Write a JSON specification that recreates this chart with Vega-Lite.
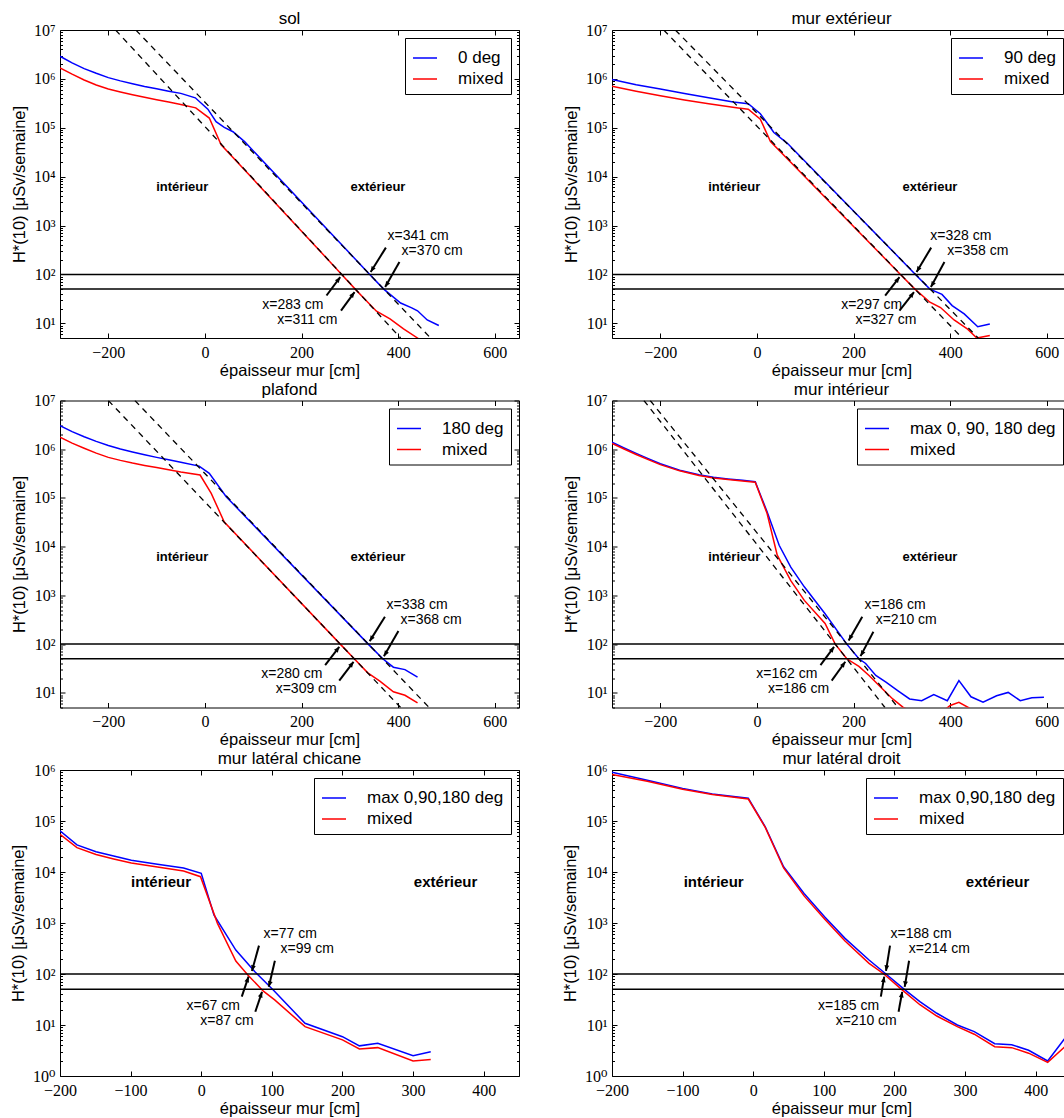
{
"$schema": "https://vega.github.io/schema/vega-lite/v6.json",
"background": "white",
"padding": {"left": 10, "top": 9, "right": 0, "bottom": 0},
"spacing": 0.5,
"config": {
 "view": {"stroke": "black", "strokeWidth": 1},
 "title": {"font": "Liberation Sans", "fontSize": 17, "fontWeight": "normal", "color": "black", "offset": -6, "anchor": "middle"},
 "axis": {"grid": false, "domain": false, "labelFont": "Liberation Serif, DejaVu Serif, serif", "labelFontSize": 16, "labelColor": "black", "tickColor": "black", "tickWidth": 1, "titleFont": "Liberation Sans", "titleFontSize": 16.5, "titleFontWeight": "normal", "titleColor": "black", "labelOverlap": false, "labelFlush": false},
 "axisBottom": {"tickSize": -5, "labelPadding": 11, "titlePadding": 2, "labelFont": "Liberation Serif, DejaVu Serif, serif"},
 "axisTop": {"tickSize": -5},
 "axisLeft": {"labelPadding": 10, "titlePadding": 6, "labelFont": "Liberation Serif, DejaVu Serif, serif"},
 "legend": {"orient": "top-right", "offset": 8, "padding": 7, "strokeColor": "black", "fillColor": "white", "symbolType": "stroke", "symbolSize": 576, "symbolStrokeWidth": 1.5, "labelFont": "Liberation Sans", "labelFontSize": 17, "labelOffset": 20, "rowPadding": 0, "labelColor": "black", "labelLimit": 300, "cornerRadius": 0}
},
"resolve": {"scale": {"x": "independent", "y": "independent", "color": "independent"}, "legend": {"color": "independent"}},
"datasets": {
 "hlines": [{"y": 100}, {"y": 50}],
 "curves": [
  {"p":1,"s":"0 deg","x":-300,"y":2900000},{"p":1,"s":"0 deg","x":-275,"y":2120000},{"p":1,"s":"0 deg","x":-250,"y":1620000},{"p":1,"s":"0 deg","x":-225,"y":1300000},{"p":1,"s":"0 deg","x":-200,"y":1060000},{"p":1,"s":"0 deg","x":-175,"y":910000},{"p":1,"s":"0 deg","x":-150,"y":795000},{"p":1,"s":"0 deg","x":-125,"y":700000},{"p":1,"s":"0 deg","x":-100,"y":625000},{"p":1,"s":"0 deg","x":-75,"y":560000},{"p":1,"s":"0 deg","x":-50,"y":505000},{"p":1,"s":"0 deg","x":-20,"y":410000},{"p":1,"s":"0 deg","x":6,"y":240000},{"p":1,"s":"0 deg","x":23,"y":133000},{"p":1,"s":"0 deg","x":40,"y":102000},{"p":1,"s":"0 deg","x":58,"y":83000},{"p":1,"s":"0 deg","x":82,"y":52000},{"p":1,"s":"0 deg","x":341,"y":100},{"p":1,"s":"0 deg","x":370,"y":50},{"p":1,"s":"0 deg","x":405,"y":26},{"p":1,"s":"0 deg","x":428,"y":20.7},{"p":1,"s":"0 deg","x":440,"y":18},{"p":1,"s":"0 deg","x":460,"y":11.7},{"p":1,"s":"0 deg","x":484,"y":9},
  {"p":1,"s":"mixed","x":-300,"y":1680000},{"p":1,"s":"mixed","x":-275,"y":1250000},{"p":1,"s":"mixed","x":-250,"y":950000},{"p":1,"s":"mixed","x":-225,"y":750000},{"p":1,"s":"mixed","x":-200,"y":620000},{"p":1,"s":"mixed","x":-175,"y":540000},{"p":1,"s":"mixed","x":-150,"y":475000},{"p":1,"s":"mixed","x":-125,"y":420000},{"p":1,"s":"mixed","x":-100,"y":376000},{"p":1,"s":"mixed","x":-75,"y":335000},{"p":1,"s":"mixed","x":-50,"y":300000},{"p":1,"s":"mixed","x":-19,"y":255000},{"p":1,"s":"mixed","x":9,"y":158000},{"p":1,"s":"mixed","x":33.5,"y":45000},{"p":1,"s":"mixed","x":283,"y":100},{"p":1,"s":"mixed","x":311,"y":50},{"p":1,"s":"mixed","x":334,"y":29},{"p":1,"s":"mixed","x":355,"y":17.7},{"p":1,"s":"mixed","x":383,"y":12.3},{"p":1,"s":"mixed","x":411,"y":7.7},{"p":1,"s":"mixed","x":440,"y":5},{"p":1,"s":"mixed","x":455,"y":3.8},
  {"p":2,"s":"90 deg","x":-300,"y":970000},{"p":2,"s":"90 deg","x":-250,"y":760000},{"p":2,"s":"90 deg","x":-200,"y":620000},{"p":2,"s":"90 deg","x":-150,"y":500000},{"p":2,"s":"90 deg","x":-100,"y":410000},{"p":2,"s":"90 deg","x":-49,"y":335000},{"p":2,"s":"90 deg","x":-18,"y":310000},{"p":2,"s":"90 deg","x":7,"y":194000},{"p":2,"s":"90 deg","x":21,"y":125000},{"p":2,"s":"90 deg","x":35,"y":80000},{"p":2,"s":"90 deg","x":63,"y":48000},{"p":2,"s":"90 deg","x":328,"y":100},{"p":2,"s":"90 deg","x":358,"y":50},{"p":2,"s":"90 deg","x":383,"y":39},{"p":2,"s":"90 deg","x":404,"y":23},{"p":2,"s":"90 deg","x":429,"y":15.6},{"p":2,"s":"90 deg","x":457,"y":8.5},{"p":2,"s":"90 deg","x":482,"y":9.7},
  {"p":2,"s":"mixed","x":-300,"y":710000},{"p":2,"s":"mixed","x":-250,"y":560000},{"p":2,"s":"mixed","x":-200,"y":450000},{"p":2,"s":"mixed","x":-150,"y":370000},{"p":2,"s":"mixed","x":-100,"y":310000},{"p":2,"s":"mixed","x":-39,"y":255000},{"p":2,"s":"mixed","x":-18,"y":240000},{"p":2,"s":"mixed","x":7,"y":150000},{"p":2,"s":"mixed","x":28,"y":52000},{"p":2,"s":"mixed","x":297,"y":100},{"p":2,"s":"mixed","x":327,"y":50},{"p":2,"s":"mixed","x":358,"y":27},{"p":2,"s":"mixed","x":380,"y":21},{"p":2,"s":"mixed","x":408,"y":11.7},{"p":2,"s":"mixed","x":436,"y":7.6},{"p":2,"s":"mixed","x":455,"y":5},{"p":2,"s":"mixed","x":482,"y":5.6},
  {"p":3,"s":"180 deg","x":-300,"y":3060000},{"p":3,"s":"180 deg","x":-275,"y":2300000},{"p":3,"s":"180 deg","x":-250,"y":1800000},{"p":3,"s":"180 deg","x":-225,"y":1450000},{"p":3,"s":"180 deg","x":-200,"y":1190000},{"p":3,"s":"180 deg","x":-175,"y":1010000},{"p":3,"s":"180 deg","x":-150,"y":880000},{"p":3,"s":"180 deg","x":-125,"y":770000},{"p":3,"s":"180 deg","x":-100,"y":680000},{"p":3,"s":"180 deg","x":-75,"y":605000},{"p":3,"s":"180 deg","x":-50,"y":540000},{"p":3,"s":"180 deg","x":-12,"y":450000},{"p":3,"s":"180 deg","x":9,"y":320000},{"p":3,"s":"180 deg","x":44,"y":106000},{"p":3,"s":"180 deg","x":338,"y":100},{"p":3,"s":"180 deg","x":368,"y":50},{"p":3,"s":"180 deg","x":390,"y":33.6},{"p":3,"s":"180 deg","x":414,"y":30},{"p":3,"s":"180 deg","x":440,"y":21},
  {"p":3,"s":"mixed","x":-300,"y":1760000},{"p":3,"s":"mixed","x":-275,"y":1330000},{"p":3,"s":"mixed","x":-250,"y":1050000},{"p":3,"s":"mixed","x":-225,"y":830000},{"p":3,"s":"mixed","x":-200,"y":680000},{"p":3,"s":"mixed","x":-175,"y":590000},{"p":3,"s":"mixed","x":-150,"y":520000},{"p":3,"s":"mixed","x":-125,"y":465000},{"p":3,"s":"mixed","x":-100,"y":420000},{"p":3,"s":"mixed","x":-75,"y":378000},{"p":3,"s":"mixed","x":-50,"y":340000},{"p":3,"s":"mixed","x":-10,"y":295000},{"p":3,"s":"mixed","x":13,"y":124000},{"p":3,"s":"mixed","x":40,"y":32000},{"p":3,"s":"mixed","x":280,"y":100},{"p":3,"s":"mixed","x":309,"y":50},{"p":3,"s":"mixed","x":337,"y":25.7},{"p":3,"s":"mixed","x":362,"y":17.4},{"p":3,"s":"mixed","x":390,"y":10.5},{"p":3,"s":"mixed","x":414,"y":8.9},{"p":3,"s":"mixed","x":440,"y":6.2},
  {"p":4,"s":"max 0, 90, 180 deg","x":-300,"y":1390000},{"p":4,"s":"max 0, 90, 180 deg","x":-275,"y":1060000},{"p":4,"s":"max 0, 90, 180 deg","x":-250,"y":820000},{"p":4,"s":"max 0, 90, 180 deg","x":-225,"y":640000},{"p":4,"s":"max 0, 90, 180 deg","x":-200,"y":505000},{"p":4,"s":"max 0, 90, 180 deg","x":-160,"y":370000},{"p":4,"s":"max 0, 90, 180 deg","x":-120,"y":298000},{"p":4,"s":"max 0, 90, 180 deg","x":-90,"y":265000},{"p":4,"s":"max 0, 90, 180 deg","x":-60,"y":245000},{"p":4,"s":"max 0, 90, 180 deg","x":-30,"y":230000},{"p":4,"s":"max 0, 90, 180 deg","x":-3.5,"y":215000},{"p":4,"s":"max 0, 90, 180 deg","x":21,"y":52000},{"p":4,"s":"max 0, 90, 180 deg","x":46,"y":10700},{"p":4,"s":"max 0, 90, 180 deg","x":70,"y":3800},{"p":4,"s":"max 0, 90, 180 deg","x":98,"y":1500},{"p":4,"s":"max 0, 90, 180 deg","x":141,"y":420},{"p":4,"s":"max 0, 90, 180 deg","x":186,"y":100},{"p":4,"s":"max 0, 90, 180 deg","x":211,"y":50},{"p":4,"s":"max 0, 90, 180 deg","x":225,"y":40},{"p":4,"s":"max 0, 90, 180 deg","x":246,"y":22.7},{"p":4,"s":"max 0, 90, 180 deg","x":267,"y":16.5},{"p":4,"s":"max 0, 90, 180 deg","x":292,"y":11},{"p":4,"s":"max 0, 90, 180 deg","x":316,"y":7.5},{"p":4,"s":"max 0, 90, 180 deg","x":341,"y":6.9},{"p":4,"s":"max 0, 90, 180 deg","x":366,"y":9.2},{"p":4,"s":"max 0, 90, 180 deg","x":394,"y":6.9},{"p":4,"s":"max 0, 90, 180 deg","x":418,"y":17.8},{"p":4,"s":"max 0, 90, 180 deg","x":443,"y":8.3},{"p":4,"s":"max 0, 90, 180 deg","x":468,"y":6.4},{"p":4,"s":"max 0, 90, 180 deg","x":496,"y":8.7},{"p":4,"s":"max 0, 90, 180 deg","x":520,"y":10.2},{"p":4,"s":"max 0, 90, 180 deg","x":545,"y":6.9},{"p":4,"s":"max 0, 90, 180 deg","x":569,"y":7.9},{"p":4,"s":"max 0, 90, 180 deg","x":594,"y":8.1},
  {"p":4,"s":"mixed","x":-300,"y":1320000},{"p":4,"s":"mixed","x":-275,"y":1010000},{"p":4,"s":"mixed","x":-250,"y":780000},{"p":4,"s":"mixed","x":-225,"y":610000},{"p":4,"s":"mixed","x":-200,"y":482000},{"p":4,"s":"mixed","x":-160,"y":360000},{"p":4,"s":"mixed","x":-120,"y":288000},{"p":4,"s":"mixed","x":-90,"y":258000},{"p":4,"s":"mixed","x":-60,"y":238000},{"p":4,"s":"mixed","x":-30,"y":223000},{"p":4,"s":"mixed","x":-3.5,"y":210000},{"p":4,"s":"mixed","x":21,"y":48000},{"p":4,"s":"mixed","x":42,"y":6700},{"p":4,"s":"mixed","x":70,"y":2000},{"p":4,"s":"mixed","x":98,"y":790},{"p":4,"s":"mixed","x":141,"y":265},{"p":4,"s":"mixed","x":162,"y":100},{"p":4,"s":"mixed","x":186,"y":50},{"p":4,"s":"mixed","x":211,"y":35},{"p":4,"s":"mixed","x":232,"y":22.7},{"p":4,"s":"mixed","x":260,"y":12},{"p":4,"s":"mixed","x":281,"y":7.5},{"p":4,"s":"mixed","x":302,"y":5.1},{"p":4,"s":"mixed","x":330,"y":3.6},{"p":4,"s":"mixed","x":370,"y":3.2},{"p":4,"s":"mixed","x":400,"y":5.5},{"p":4,"s":"mixed","x":418,"y":6.4},{"p":4,"s":"mixed","x":439,"y":4.9},{"p":4,"s":"mixed","x":460,"y":3.2},
  {"p":5,"s":"max 0,90,180 deg","x":-200,"y":64000},{"p":5,"s":"max 0,90,180 deg","x":-176,"y":34000},{"p":5,"s":"max 0,90,180 deg","x":-149,"y":25000},{"p":5,"s":"max 0,90,180 deg","x":-124,"y":20500},{"p":5,"s":"max 0,90,180 deg","x":-99,"y":17000},{"p":5,"s":"max 0,90,180 deg","x":-62,"y":14200},{"p":5,"s":"max 0,90,180 deg","x":-25,"y":12000},{"p":5,"s":"max 0,90,180 deg","x":0,"y":9400},{"p":5,"s":"max 0,90,180 deg","x":18,"y":1440},{"p":5,"s":"max 0,90,180 deg","x":49,"y":295},{"p":5,"s":"max 0,90,180 deg","x":76,"y":111},{"p":5,"s":"max 0,90,180 deg","x":102,"y":48.5},{"p":5,"s":"max 0,90,180 deg","x":147,"y":10.8},{"p":5,"s":"max 0,90,180 deg","x":200,"y":5.9},{"p":5,"s":"max 0,90,180 deg","x":224,"y":3.9},{"p":5,"s":"max 0,90,180 deg","x":250,"y":4.4},{"p":5,"s":"max 0,90,180 deg","x":300,"y":2.5},{"p":5,"s":"max 0,90,180 deg","x":325,"y":3.0},
  {"p":5,"s":"mixed","x":-200,"y":55000},{"p":5,"s":"mixed","x":-176,"y":30000},{"p":5,"s":"mixed","x":-149,"y":22000},{"p":5,"s":"mixed","x":-124,"y":18000},{"p":5,"s":"mixed","x":-99,"y":15000},{"p":5,"s":"mixed","x":-62,"y":12500},{"p":5,"s":"mixed","x":-25,"y":10500},{"p":5,"s":"mixed","x":-1,"y":8100},{"p":5,"s":"mixed","x":23,"y":985},{"p":5,"s":"mixed","x":49,"y":180},{"p":5,"s":"mixed","x":66,"y":96},{"p":5,"s":"mixed","x":88,"y":46},{"p":5,"s":"mixed","x":104,"y":31},{"p":5,"s":"mixed","x":147,"y":9.3},{"p":5,"s":"mixed","x":200,"y":5.1},{"p":5,"s":"mixed","x":224,"y":3.4},{"p":5,"s":"mixed","x":250,"y":3.6},{"p":5,"s":"mixed","x":300,"y":1.97},{"p":5,"s":"mixed","x":325,"y":2.1},
  {"p":6,"s":"max 0,90,180 deg","x":-200,"y":900000},{"p":6,"s":"max 0,90,180 deg","x":-150,"y":630000},{"p":6,"s":"max 0,90,180 deg","x":-100,"y":436000},{"p":6,"s":"max 0,90,180 deg","x":-58,"y":340000},{"p":6,"s":"max 0,90,180 deg","x":-7,"y":280000},{"p":6,"s":"max 0,90,180 deg","x":17,"y":77000},{"p":6,"s":"max 0,90,180 deg","x":43,"y":12700},{"p":6,"s":"max 0,90,180 deg","x":72,"y":3800},{"p":6,"s":"max 0,90,180 deg","x":101,"y":1330},{"p":6,"s":"max 0,90,180 deg","x":130,"y":500},{"p":6,"s":"max 0,90,180 deg","x":164,"y":188},{"p":6,"s":"max 0,90,180 deg","x":188,"y":100},{"p":6,"s":"max 0,90,180 deg","x":214,"y":50},{"p":6,"s":"max 0,90,180 deg","x":236,"y":28.7},{"p":6,"s":"max 0,90,180 deg","x":260,"y":17},{"p":6,"s":"max 0,90,180 deg","x":289,"y":10},{"p":6,"s":"max 0,90,180 deg","x":313,"y":7.4},{"p":6,"s":"max 0,90,180 deg","x":342,"y":4.3},{"p":6,"s":"max 0,90,180 deg","x":366,"y":4.1},{"p":6,"s":"max 0,90,180 deg","x":390,"y":3.2},{"p":6,"s":"max 0,90,180 deg","x":417,"y":1.97},{"p":6,"s":"max 0,90,180 deg","x":440,"y":5.2},{"p":6,"s":"max 0,90,180 deg","x":460,"y":10},
  {"p":6,"s":"mixed","x":-200,"y":820000},{"p":6,"s":"mixed","x":-150,"y":600000},{"p":6,"s":"mixed","x":-100,"y":420000},{"p":6,"s":"mixed","x":-58,"y":330000},{"p":6,"s":"mixed","x":-7,"y":270000},{"p":6,"s":"mixed","x":17,"y":75000},{"p":6,"s":"mixed","x":43,"y":12000},{"p":6,"s":"mixed","x":72,"y":3400},{"p":6,"s":"mixed","x":101,"y":1200},{"p":6,"s":"mixed","x":130,"y":444},{"p":6,"s":"mixed","x":164,"y":162},{"p":6,"s":"mixed","x":185,"y":100},{"p":6,"s":"mixed","x":210,"y":50},{"p":6,"s":"mixed","x":236,"y":25},{"p":6,"s":"mixed","x":260,"y":15},{"p":6,"s":"mixed","x":289,"y":9.3},{"p":6,"s":"mixed","x":313,"y":6.6},{"p":6,"s":"mixed","x":342,"y":3.76},{"p":6,"s":"mixed","x":366,"y":3.6},{"p":6,"s":"mixed","x":390,"y":2.8},{"p":6,"s":"mixed","x":417,"y":1.85},{"p":6,"s":"mixed","x":440,"y":3.6},{"p":6,"s":"mixed","x":460,"y":6}
 ],
 "fits": [
  {"p":1,"f":"a","x":-143,"y":10000000},{"p":1,"f":"a","x":467,"y":5},{"p":1,"f":"b","x":-185,"y":10000000},{"p":1,"f":"b","x":405,"y":5},
  {"p":2,"f":"a","x":-169,"y":10000000},{"p":2,"f":"a","x":458,"y":5},{"p":2,"f":"b","x":-193,"y":10000000},{"p":2,"f":"b","x":425,"y":5},
  {"p":3,"f":"a","x":-145,"y":10000000},{"p":3,"f":"a","x":464,"y":5},{"p":3,"f":"b","x":-200,"y":10000000},{"p":3,"f":"b","x":405,"y":5},
  {"p":4,"f":"a","x":-221,"y":10000000},{"p":4,"f":"a","x":292,"y":5},{"p":4,"f":"b","x":-234,"y":10000000},{"p":4,"f":"b","x":265,"y":5}
 ],
 "regions": [
  {"p":1,"t":"intérieur","x":-47,"y":6000},{"p":1,"t":"extérieur","x":358,"y":6000},
  {"p":2,"t":"intérieur","x":-47,"y":6000},{"p":2,"t":"extérieur","x":358,"y":6000},
  {"p":3,"t":"intérieur","x":-47,"y":6000},{"p":3,"t":"extérieur","x":358,"y":6000},
  {"p":4,"t":"intérieur","x":-47,"y":6000},{"p":4,"t":"extérieur","x":358,"y":6000},
  {"p":5,"t":"intérieur","x":-57,"y":6300},{"p":5,"t":"extérieur","x":346,"y":6300},
  {"p":6,"t":"intérieur","x":-56,"y":6300},{"p":6,"t":"extérieur","x":346,"y":6300}
 ],
 "arrows": [
  {"p":1,"k":"up","t":"x=341 cm","tx":441,"ty":603,"x":374.5,"y":353,"hx":343,"hy":112},
  {"p":1,"k":"up","t":"x=370 cm","tx":470,"ty":302,"x":402.5,"y":179,"hx":373,"hy":55},
  {"p":1,"k":"down","t":"x=283 cm","tx":182,"ty":24.2,"x":251.6,"y":37,"hx":280,"hy":88},
  {"p":1,"k":"down","t":"x=311 cm","tx":212,"ty":11.9,"x":281.6,"y":18.2,"hx":309.6,"hy":43.4},
  {"p":2,"k":"up","t":"x=328 cm","tx":422,"ty":603,"x":360.6,"y":353,"hx":330.4,"hy":112},
  {"p":2,"k":"up","t":"x=358 cm","tx":457,"ty":302,"x":388,"y":179,"hx":360,"hy":55},
  {"p":2,"k":"down","t":"x=297 cm","tx":237.6,"ty":24.2,"x":265.4,"y":37,"hx":295,"hy":88},
  {"p":2,"k":"down","t":"x=327 cm","tx":267,"ty":11.9,"x":295,"y":18.2,"hx":325,"hy":43.4},
  {"p":3,"k":"up","t":"x=338 cm","tx":439,"ty":625,"x":372.5,"y":363,"hx":341,"hy":115},
  {"p":3,"k":"up","t":"x=368 cm","tx":468,"ty":307,"x":400.4,"y":186,"hx":370.4,"hy":56.6},
  {"p":3,"k":"down","t":"x=280 cm","tx":180,"ty":24.5,"x":248.8,"y":37,"hx":278,"hy":88},
  {"p":3,"k":"down","t":"x=309 cm","tx":209.6,"ty":12.2,"x":278,"y":17.8,"hx":307.5,"hy":43.4},
  {"p":4,"k":"up","t":"x=186 cm","tx":286,"ty":625,"x":218,"y":363,"hx":189.8,"hy":119},
  {"p":4,"k":"up","t":"x=210 cm","tx":309,"ty":307,"x":241,"y":179,"hx":214.4,"hy":56.6},
  {"p":4,"k":"down","t":"x=162 cm","tx":62,"ty":24.5,"x":131.5,"y":37,"hx":159.6,"hy":88},
  {"p":4,"k":"down","t":"x=186 cm","tx":86,"ty":12.2,"x":154.7,"y":17.8,"hx":182.8,"hy":43.4},
  {"p":5,"k":"up","t":"x=77 cm","tx":126,"ty":608,"x":81.8,"y":360,"hx":71.8,"hy":115},
  {"p":5,"k":"up","t":"x=99 cm","tx":150,"ty":305,"x":104.3,"y":182,"hx":95.7,"hy":56},
  {"p":5,"k":"down","t":"x=67 cm","tx":17,"ty":24,"x":57.4,"y":36,"hx":67,"hy":88.7},
  {"p":5,"k":"down","t":"x=87 cm","tx":36.4,"ty":12,"x":76.6,"y":18.2,"hx":86.1,"hy":44.7},
  {"p":6,"k":"up","t":"x=188 cm","tx":237.6,"ty":608,"x":193.7,"y":360,"hx":188,"hy":115},
  {"p":6,"k":"up","t":"x=214 cm","tx":263.6,"ty":305,"x":220.7,"y":182,"hx":214.5,"hy":56},
  {"p":6,"k":"down","t":"x=185 cm","tx":135,"ty":24,"x":180.7,"y":36,"hx":185.5,"hy":88.7},
  {"p":6,"k":"down","t":"x=210 cm","tx":160,"ty":12,"x":205.8,"y":18.2,"hx":211,"hy":44.7}
 ]
},
"vconcat": [
 {"spacing": 41, "resolve": {"scale": {"x": "independent", "y": "independent", "color": "independent"}, "legend": {"color": "independent"}},
  "hconcat": [
  {"title": {"text": "sol"}, "width": 459, "height": 308, "resolve": {"axis": {"x": "independent", "y": "independent"}},
   "layer": [
    {"data": {"name": "curves"}, "transform": [{"filter": "datum.p == 1"}], "mark": {"type": "line", "strokeWidth": 1.5, "clip": true},
     "encoding": {
      "x": {"field": "x", "type": "quantitative", "scale": {"domain": [-300, 650], "nice": false, "zero": false}, "axis": {"orient": "bottom", "values": [-200, 0, 200, 400, 600], "title": "épaisseur mur [cm]"}},
      "y": {"field": "y", "type": "quantitative", "scale": {"type": "log", "domain": [5, 10000000], "nice": false}, "axis": {"orient": "left", "title": "H*(10) [μSv/semaine]", "values": [5,6,7,8,9,10,20,30,40,50,60,70,80,90,100,200,300,400,500,600,700,800,900,1000,2000,3000,4000,5000,6000,7000,8000,9000,10000,20000,30000,40000,50000,60000,70000,80000,90000,100000,200000,300000,400000,500000,600000,700000,800000,900000,1000000,2000000,3000000,4000000,5000000,6000000,7000000,8000000,9000000,10000000], "labelExpr": "abs(log(datum.value)/LN10-round(log(datum.value)/LN10))<0.001 ? '10'+['⁰','¹','²','³','⁴','⁵','⁶','⁷'][round(log(datum.value)/LN10)] : ''", "tickSize": {"condition": {"test": "abs(log(datum.value)/LN10-round(log(datum.value)/LN10))<0.001", "value": -5}, "value": -2.5}}},
      "color": {"field": "s", "type": "nominal", "scale": {"domain": ["0 deg", "mixed"], "range": ["#0000ff", "#ff0000"]}, "legend": {"title": null}}}},
    {"data": {"name": "fits"}, "transform": [{"filter": "datum.p == 1"}], "mark": {"type": "line", "color": "black", "strokeWidth": 1.3, "strokeDash": [6, 5], "clip": true},
     "encoding": {"x": {"field": "x", "type": "quantitative", "axis": null}, "y": {"field": "y", "type": "quantitative", "axis": null}, "detail": {"field": "f"}}},
    {"data": {"name": "hlines"}, "mark": {"type": "rule", "color": "black", "strokeWidth": 1.5}, "encoding": {"y": {"field": "y", "type": "quantitative", "axis": null}}},
    {"data": {"name": "regions"}, "transform": [{"filter": "datum.p == 1"}], "mark": {"type": "text", "font": "Liberation Sans", "fontSize": 13, "fontWeight": "bold", "color": "black"},
     "encoding": {"x": {"field": "x", "type": "quantitative", "axis": {"orient": "top", "values": [-200, 0, 200, 400, 600], "labels": false, "title": null}}, "y": {"field": "y", "type": "quantitative", "axis": {"orient": "right", "labels": false, "title": null, "values": [5,6,7,8,9,10,20,30,40,50,60,70,80,90,100,200,300,400,500,600,700,800,900,1000,2000,3000,4000,5000,6000,7000,8000,9000,10000,20000,30000,40000,50000,60000,70000,80000,90000,100000,200000,300000,400000,500000,600000,700000,800000,900000,1000000,2000000,3000000,4000000,5000000,6000000,7000000,8000000,9000000,10000000], "tickSize": {"condition": {"test": "abs(log(datum.value)/LN10-round(log(datum.value)/LN10))<0.001", "value": -5}, "value": -2.5}}}, "text": {"field": "t"}}},
    {"data": {"name": "arrows"}, "transform": [{"filter": "datum.p == 1"}], "mark": {"type": "rule", "color": "black", "strokeWidth": 2},
     "encoding": {"x": {"field": "x", "type": "quantitative", "axis": null}, "y": {"field": "y", "type": "quantitative", "axis": null}, "x2": {"field": "hx"}, "y2": {"field": "hy"}}},
    {"data": {"name": "arrows"}, "transform": [{"filter": "datum.p == 1"}], "mark": {"type": "point", "shape": "M0,0L-0.6,1.4L0.6,1.4Z", "filled": true, "color": "black", "opacity": 1, "size": 64},
     "encoding": {"x": {"field": "hx", "type": "quantitative", "axis": null}, "y": {"field": "hy", "type": "quantitative", "axis": null}, "angle": {"condition": {"test": "datum.k == 'up'", "value": 212}, "value": 37}}},
    {"data": {"name": "arrows"}, "transform": [{"filter": "datum.p == 1"}], "mark": {"type": "text", "font": "Liberation Sans", "fontSize": 14, "color": "black"},
     "encoding": {"x": {"field": "tx", "type": "quantitative", "axis": null}, "y": {"field": "ty", "type": "quantitative", "axis": null}, "text": {"field": "t"}}}
   ]},
  {"title": {"text": "mur extérieur"}, "width": 459, "height": 308, "resolve": {"axis": {"x": "independent", "y": "independent"}},
   "layer": [
    {"data": {"name": "curves"}, "transform": [{"filter": "datum.p == 2"}], "mark": {"type": "line", "strokeWidth": 1.5, "clip": true},
     "encoding": {
      "x": {"field": "x", "type": "quantitative", "scale": {"domain": [-300, 650], "nice": false, "zero": false}, "axis": {"orient": "bottom", "values": [-200, 0, 200, 400, 600], "title": "épaisseur mur [cm]"}},
      "y": {"field": "y", "type": "quantitative", "scale": {"type": "log", "domain": [5, 10000000], "nice": false}, "axis": {"orient": "left", "title": "H*(10) [μSv/semaine]", "values": [5,6,7,8,9,10,20,30,40,50,60,70,80,90,100,200,300,400,500,600,700,800,900,1000,2000,3000,4000,5000,6000,7000,8000,9000,10000,20000,30000,40000,50000,60000,70000,80000,90000,100000,200000,300000,400000,500000,600000,700000,800000,900000,1000000,2000000,3000000,4000000,5000000,6000000,7000000,8000000,9000000,10000000], "labelExpr": "abs(log(datum.value)/LN10-round(log(datum.value)/LN10))<0.001 ? '10'+['⁰','¹','²','³','⁴','⁵','⁶','⁷'][round(log(datum.value)/LN10)] : ''", "tickSize": {"condition": {"test": "abs(log(datum.value)/LN10-round(log(datum.value)/LN10))<0.001", "value": -5}, "value": -2.5}}},
      "color": {"field": "s", "type": "nominal", "scale": {"domain": ["90 deg", "mixed"], "range": ["#0000ff", "#ff0000"]}, "legend": {"title": null}}}},
    {"data": {"name": "fits"}, "transform": [{"filter": "datum.p == 2"}], "mark": {"type": "line", "color": "black", "strokeWidth": 1.3, "strokeDash": [6, 5], "clip": true},
     "encoding": {"x": {"field": "x", "type": "quantitative", "axis": null}, "y": {"field": "y", "type": "quantitative", "axis": null}, "detail": {"field": "f"}}},
    {"data": {"name": "hlines"}, "mark": {"type": "rule", "color": "black", "strokeWidth": 1.5}, "encoding": {"y": {"field": "y", "type": "quantitative", "axis": null}}},
    {"data": {"name": "regions"}, "transform": [{"filter": "datum.p == 2"}], "mark": {"type": "text", "font": "Liberation Sans", "fontSize": 13, "fontWeight": "bold", "color": "black"},
     "encoding": {"x": {"field": "x", "type": "quantitative", "axis": {"orient": "top", "values": [-200, 0, 200, 400, 600], "labels": false, "title": null}}, "y": {"field": "y", "type": "quantitative", "axis": {"orient": "right", "labels": false, "title": null, "values": [5,6,7,8,9,10,20,30,40,50,60,70,80,90,100,200,300,400,500,600,700,800,900,1000,2000,3000,4000,5000,6000,7000,8000,9000,10000,20000,30000,40000,50000,60000,70000,80000,90000,100000,200000,300000,400000,500000,600000,700000,800000,900000,1000000,2000000,3000000,4000000,5000000,6000000,7000000,8000000,9000000,10000000], "tickSize": {"condition": {"test": "abs(log(datum.value)/LN10-round(log(datum.value)/LN10))<0.001", "value": -5}, "value": -2.5}}}, "text": {"field": "t"}}},
    {"data": {"name": "arrows"}, "transform": [{"filter": "datum.p == 2"}], "mark": {"type": "rule", "color": "black", "strokeWidth": 2},
     "encoding": {"x": {"field": "x", "type": "quantitative", "axis": null}, "y": {"field": "y", "type": "quantitative", "axis": null}, "x2": {"field": "hx"}, "y2": {"field": "hy"}}},
    {"data": {"name": "arrows"}, "transform": [{"filter": "datum.p == 2"}], "mark": {"type": "point", "shape": "M0,0L-0.6,1.4L0.6,1.4Z", "filled": true, "color": "black", "opacity": 1, "size": 64},
     "encoding": {"x": {"field": "hx", "type": "quantitative", "axis": null}, "y": {"field": "hy", "type": "quantitative", "axis": null}, "angle": {"condition": {"test": "datum.k == 'up'", "value": 211}, "value": 37}}},
    {"data": {"name": "arrows"}, "transform": [{"filter": "datum.p == 2"}], "mark": {"type": "text", "font": "Liberation Sans", "fontSize": 14, "color": "black"},
     "encoding": {"x": {"field": "tx", "type": "quantitative", "axis": null}, "y": {"field": "ty", "type": "quantitative", "axis": null}, "text": {"field": "t"}}}
   ]}
 ]},
 {"spacing": 41, "resolve": {"scale": {"x": "independent", "y": "independent", "color": "independent"}, "legend": {"color": "independent"}},
  "hconcat": [
  {"title": {"text": "plafond"}, "width": 459, "height": 307, "resolve": {"axis": {"x": "independent", "y": "independent"}},
   "layer": [
    {"data": {"name": "curves"}, "transform": [{"filter": "datum.p == 3"}], "mark": {"type": "line", "strokeWidth": 1.5, "clip": true},
     "encoding": {
      "x": {"field": "x", "type": "quantitative", "scale": {"domain": [-300, 650], "nice": false, "zero": false}, "axis": {"orient": "bottom", "values": [-200, 0, 200, 400, 600], "title": "épaisseur mur [cm]"}},
      "y": {"field": "y", "type": "quantitative", "scale": {"type": "log", "domain": [5, 10000000], "nice": false}, "axis": {"orient": "left", "title": "H*(10) [μSv/semaine]", "values": [5,6,7,8,9,10,20,30,40,50,60,70,80,90,100,200,300,400,500,600,700,800,900,1000,2000,3000,4000,5000,6000,7000,8000,9000,10000,20000,30000,40000,50000,60000,70000,80000,90000,100000,200000,300000,400000,500000,600000,700000,800000,900000,1000000,2000000,3000000,4000000,5000000,6000000,7000000,8000000,9000000,10000000], "labelExpr": "abs(log(datum.value)/LN10-round(log(datum.value)/LN10))<0.001 ? '10'+['⁰','¹','²','³','⁴','⁵','⁶','⁷'][round(log(datum.value)/LN10)] : ''", "tickSize": {"condition": {"test": "abs(log(datum.value)/LN10-round(log(datum.value)/LN10))<0.001", "value": -5}, "value": -2.5}}},
      "color": {"field": "s", "type": "nominal", "scale": {"domain": ["180 deg", "mixed"], "range": ["#0000ff", "#ff0000"]}, "legend": {"title": null}}}},
    {"data": {"name": "fits"}, "transform": [{"filter": "datum.p == 3"}], "mark": {"type": "line", "color": "black", "strokeWidth": 1.3, "strokeDash": [6, 5], "clip": true},
     "encoding": {"x": {"field": "x", "type": "quantitative", "axis": null}, "y": {"field": "y", "type": "quantitative", "axis": null}, "detail": {"field": "f"}}},
    {"data": {"name": "hlines"}, "mark": {"type": "rule", "color": "black", "strokeWidth": 1.5}, "encoding": {"y": {"field": "y", "type": "quantitative", "axis": null}}},
    {"data": {"name": "regions"}, "transform": [{"filter": "datum.p == 3"}], "mark": {"type": "text", "font": "Liberation Sans", "fontSize": 13, "fontWeight": "bold", "color": "black"},
     "encoding": {"x": {"field": "x", "type": "quantitative", "axis": {"orient": "top", "values": [-200, 0, 200, 400, 600], "labels": false, "title": null}}, "y": {"field": "y", "type": "quantitative", "axis": {"orient": "right", "labels": false, "title": null, "values": [5,6,7,8,9,10,20,30,40,50,60,70,80,90,100,200,300,400,500,600,700,800,900,1000,2000,3000,4000,5000,6000,7000,8000,9000,10000,20000,30000,40000,50000,60000,70000,80000,90000,100000,200000,300000,400000,500000,600000,700000,800000,900000,1000000,2000000,3000000,4000000,5000000,6000000,7000000,8000000,9000000,10000000], "tickSize": {"condition": {"test": "abs(log(datum.value)/LN10-round(log(datum.value)/LN10))<0.001", "value": -5}, "value": -2.5}}}, "text": {"field": "t"}}},
    {"data": {"name": "arrows"}, "transform": [{"filter": "datum.p == 3"}], "mark": {"type": "rule", "color": "black", "strokeWidth": 2},
     "encoding": {"x": {"field": "x", "type": "quantitative", "axis": null}, "y": {"field": "y", "type": "quantitative", "axis": null}, "x2": {"field": "hx"}, "y2": {"field": "hy"}}},
    {"data": {"name": "arrows"}, "transform": [{"filter": "datum.p == 3"}], "mark": {"type": "point", "shape": "M0,0L-0.6,1.4L0.6,1.4Z", "filled": true, "color": "black", "opacity": 1, "size": 64},
     "encoding": {"x": {"field": "hx", "type": "quantitative", "axis": null}, "y": {"field": "hy", "type": "quantitative", "axis": null}, "angle": {"condition": {"test": "datum.k == 'up'", "value": 212}, "value": 37}}},
    {"data": {"name": "arrows"}, "transform": [{"filter": "datum.p == 3"}], "mark": {"type": "text", "font": "Liberation Sans", "fontSize": 14, "color": "black"},
     "encoding": {"x": {"field": "tx", "type": "quantitative", "axis": null}, "y": {"field": "ty", "type": "quantitative", "axis": null}, "text": {"field": "t"}}}
   ]},
  {"title": {"text": "mur intérieur"}, "width": 459, "height": 307, "resolve": {"axis": {"x": "independent", "y": "independent"}},
   "layer": [
    {"data": {"name": "curves"}, "transform": [{"filter": "datum.p == 4"}], "mark": {"type": "line", "strokeWidth": 1.5, "clip": true},
     "encoding": {
      "x": {"field": "x", "type": "quantitative", "scale": {"domain": [-300, 650], "nice": false, "zero": false}, "axis": {"orient": "bottom", "values": [-200, 0, 200, 400, 600], "title": "épaisseur mur [cm]"}},
      "y": {"field": "y", "type": "quantitative", "scale": {"type": "log", "domain": [5, 10000000], "nice": false}, "axis": {"orient": "left", "title": "H*(10) [μSv/semaine]", "values": [5,6,7,8,9,10,20,30,40,50,60,70,80,90,100,200,300,400,500,600,700,800,900,1000,2000,3000,4000,5000,6000,7000,8000,9000,10000,20000,30000,40000,50000,60000,70000,80000,90000,100000,200000,300000,400000,500000,600000,700000,800000,900000,1000000,2000000,3000000,4000000,5000000,6000000,7000000,8000000,9000000,10000000], "labelExpr": "abs(log(datum.value)/LN10-round(log(datum.value)/LN10))<0.001 ? '10'+['⁰','¹','²','³','⁴','⁵','⁶','⁷'][round(log(datum.value)/LN10)] : ''", "tickSize": {"condition": {"test": "abs(log(datum.value)/LN10-round(log(datum.value)/LN10))<0.001", "value": -5}, "value": -2.5}}},
      "color": {"field": "s", "type": "nominal", "scale": {"domain": ["max 0, 90, 180 deg", "mixed"], "range": ["#0000ff", "#ff0000"]}, "legend": {"title": null}}}},
    {"data": {"name": "fits"}, "transform": [{"filter": "datum.p == 4"}], "mark": {"type": "line", "color": "black", "strokeWidth": 1.3, "strokeDash": [6, 5], "clip": true},
     "encoding": {"x": {"field": "x", "type": "quantitative", "axis": null}, "y": {"field": "y", "type": "quantitative", "axis": null}, "detail": {"field": "f"}}},
    {"data": {"name": "hlines"}, "mark": {"type": "rule", "color": "black", "strokeWidth": 1.5}, "encoding": {"y": {"field": "y", "type": "quantitative", "axis": null}}},
    {"data": {"name": "regions"}, "transform": [{"filter": "datum.p == 4"}], "mark": {"type": "text", "font": "Liberation Sans", "fontSize": 13, "fontWeight": "bold", "color": "black"},
     "encoding": {"x": {"field": "x", "type": "quantitative", "axis": {"orient": "top", "values": [-200, 0, 200, 400, 600], "labels": false, "title": null}}, "y": {"field": "y", "type": "quantitative", "axis": {"orient": "right", "labels": false, "title": null, "values": [5,6,7,8,9,10,20,30,40,50,60,70,80,90,100,200,300,400,500,600,700,800,900,1000,2000,3000,4000,5000,6000,7000,8000,9000,10000,20000,30000,40000,50000,60000,70000,80000,90000,100000,200000,300000,400000,500000,600000,700000,800000,900000,1000000,2000000,3000000,4000000,5000000,6000000,7000000,8000000,9000000,10000000], "tickSize": {"condition": {"test": "abs(log(datum.value)/LN10-round(log(datum.value)/LN10))<0.001", "value": -5}, "value": -2.5}}}, "text": {"field": "t"}}},
    {"data": {"name": "arrows"}, "transform": [{"filter": "datum.p == 4"}], "mark": {"type": "rule", "color": "black", "strokeWidth": 2},
     "encoding": {"x": {"field": "x", "type": "quantitative", "axis": null}, "y": {"field": "y", "type": "quantitative", "axis": null}, "x2": {"field": "hx"}, "y2": {"field": "hy"}}},
    {"data": {"name": "arrows"}, "transform": [{"filter": "datum.p == 4"}], "mark": {"type": "point", "shape": "M0,0L-0.6,1.4L0.6,1.4Z", "filled": true, "color": "black", "opacity": 1, "size": 64},
     "encoding": {"x": {"field": "hx", "type": "quantitative", "axis": null}, "y": {"field": "hy", "type": "quantitative", "axis": null}, "angle": {"condition": {"test": "datum.k == 'up'", "value": 210}, "value": 36}}},
    {"data": {"name": "arrows"}, "transform": [{"filter": "datum.p == 4"}], "mark": {"type": "text", "font": "Liberation Sans", "fontSize": 14, "color": "black"},
     "encoding": {"x": {"field": "tx", "type": "quantitative", "axis": null}, "y": {"field": "ty", "type": "quantitative", "axis": null}, "text": {"field": "t"}}}
   ]}
 ]},
 {"spacing": 41, "resolve": {"scale": {"x": "independent", "y": "independent", "color": "independent"}, "legend": {"color": "independent"}},
  "hconcat": [
  {"title": {"text": "mur latéral chicane"}, "width": 459, "height": 306, "resolve": {"axis": {"x": "independent", "y": "independent"}},
   "layer": [
    {"data": {"name": "curves"}, "transform": [{"filter": "datum.p == 5"}], "mark": {"type": "line", "strokeWidth": 1.5, "clip": true},
     "encoding": {
      "x": {"field": "x", "type": "quantitative", "scale": {"domain": [-200, 450], "nice": false, "zero": false}, "axis": {"orient": "bottom", "values": [-200, -100, 0, 100, 200, 300, 400], "title": "épaisseur mur [cm]"}},
      "y": {"field": "y", "type": "quantitative", "scale": {"type": "log", "domain": [1, 1000000], "nice": false}, "axis": {"orient": "left", "title": "H*(10) [μSv/semaine]", "values": [1,2,3,4,5,6,7,8,9,10,20,30,40,50,60,70,80,90,100,200,300,400,500,600,700,800,900,1000,2000,3000,4000,5000,6000,7000,8000,9000,10000,20000,30000,40000,50000,60000,70000,80000,90000,100000,200000,300000,400000,500000,600000,700000,800000,900000,1000000], "labelExpr": "abs(log(datum.value)/LN10-round(log(datum.value)/LN10))<0.001 ? '10'+['⁰','¹','²','³','⁴','⁵','⁶','⁷'][round(log(datum.value)/LN10)] : ''", "tickSize": {"condition": {"test": "abs(log(datum.value)/LN10-round(log(datum.value)/LN10))<0.001", "value": -5}, "value": -2.5}}},
      "color": {"field": "s", "type": "nominal", "scale": {"domain": ["max 0,90,180 deg", "mixed"], "range": ["#0000ff", "#ff0000"]}, "legend": {"title": null}}}},
    {"data": {"name": "hlines"}, "mark": {"type": "rule", "color": "black", "strokeWidth": 1.5}, "encoding": {"y": {"field": "y", "type": "quantitative", "axis": null}}},
    {"data": {"name": "regions"}, "transform": [{"filter": "datum.p == 5"}], "mark": {"type": "text", "font": "Liberation Sans", "fontSize": 15, "fontWeight": "bold", "color": "black"},
     "encoding": {"x": {"field": "x", "type": "quantitative", "axis": {"orient": "top", "values": [-200, -100, 0, 100, 200, 300, 400], "labels": false, "title": null}}, "y": {"field": "y", "type": "quantitative", "axis": {"orient": "right", "labels": false, "title": null, "values": [1,2,3,4,5,6,7,8,9,10,20,30,40,50,60,70,80,90,100,200,300,400,500,600,700,800,900,1000,2000,3000,4000,5000,6000,7000,8000,9000,10000,20000,30000,40000,50000,60000,70000,80000,90000,100000,200000,300000,400000,500000,600000,700000,800000,900000,1000000], "tickSize": {"condition": {"test": "abs(log(datum.value)/LN10-round(log(datum.value)/LN10))<0.001", "value": -5}, "value": -2.5}}}, "text": {"field": "t"}}},
    {"data": {"name": "arrows"}, "transform": [{"filter": "datum.p == 5"}], "mark": {"type": "rule", "color": "black", "strokeWidth": 2},
     "encoding": {"x": {"field": "x", "type": "quantitative", "axis": null}, "y": {"field": "y", "type": "quantitative", "axis": null}, "x2": {"field": "hx"}, "y2": {"field": "hy"}}},
    {"data": {"name": "arrows"}, "transform": [{"filter": "datum.p == 5"}], "mark": {"type": "point", "shape": "M0,0L-0.6,1.4L0.6,1.4Z", "filled": true, "color": "black", "opacity": 1, "size": 64},
     "encoding": {"x": {"field": "hx", "type": "quantitative", "axis": null}, "y": {"field": "hy", "type": "quantitative", "axis": null}, "angle": {"condition": {"test": "datum.k == 'up'", "value": 196}, "value": 19}}},
    {"data": {"name": "arrows"}, "transform": [{"filter": "datum.p == 5"}], "mark": {"type": "text", "font": "Liberation Sans", "fontSize": 14, "color": "black"},
     "encoding": {"x": {"field": "tx", "type": "quantitative", "axis": null}, "y": {"field": "ty", "type": "quantitative", "axis": null}, "text": {"field": "t"}}}
   ]},
  {"title": {"text": "mur latéral droit"}, "width": 459, "height": 306, "resolve": {"axis": {"x": "independent", "y": "independent"}},
   "layer": [
    {"data": {"name": "curves"}, "transform": [{"filter": "datum.p == 6"}], "mark": {"type": "line", "strokeWidth": 1.5, "clip": true},
     "encoding": {
      "x": {"field": "x", "type": "quantitative", "scale": {"domain": [-200, 450], "nice": false, "zero": false}, "axis": {"orient": "bottom", "values": [-200, -100, 0, 100, 200, 300, 400], "title": "épaisseur mur [cm]"}},
      "y": {"field": "y", "type": "quantitative", "scale": {"type": "log", "domain": [1, 1000000], "nice": false}, "axis": {"orient": "left", "title": "H*(10) [μSv/semaine]", "values": [1,2,3,4,5,6,7,8,9,10,20,30,40,50,60,70,80,90,100,200,300,400,500,600,700,800,900,1000,2000,3000,4000,5000,6000,7000,8000,9000,10000,20000,30000,40000,50000,60000,70000,80000,90000,100000,200000,300000,400000,500000,600000,700000,800000,900000,1000000], "labelExpr": "abs(log(datum.value)/LN10-round(log(datum.value)/LN10))<0.001 ? '10'+['⁰','¹','²','³','⁴','⁵','⁶','⁷'][round(log(datum.value)/LN10)] : ''", "tickSize": {"condition": {"test": "abs(log(datum.value)/LN10-round(log(datum.value)/LN10))<0.001", "value": -5}, "value": -2.5}}},
      "color": {"field": "s", "type": "nominal", "scale": {"domain": ["max 0,90,180 deg", "mixed"], "range": ["#0000ff", "#ff0000"]}, "legend": {"title": null}}}},
    {"data": {"name": "hlines"}, "mark": {"type": "rule", "color": "black", "strokeWidth": 1.5}, "encoding": {"y": {"field": "y", "type": "quantitative", "axis": null}}},
    {"data": {"name": "regions"}, "transform": [{"filter": "datum.p == 6"}], "mark": {"type": "text", "font": "Liberation Sans", "fontSize": 15, "fontWeight": "bold", "color": "black"},
     "encoding": {"x": {"field": "x", "type": "quantitative", "axis": {"orient": "top", "values": [-200, -100, 0, 100, 200, 300, 400], "labels": false, "title": null}}, "y": {"field": "y", "type": "quantitative", "axis": {"orient": "right", "labels": false, "title": null, "values": [1,2,3,4,5,6,7,8,9,10,20,30,40,50,60,70,80,90,100,200,300,400,500,600,700,800,900,1000,2000,3000,4000,5000,6000,7000,8000,9000,10000,20000,30000,40000,50000,60000,70000,80000,90000,100000,200000,300000,400000,500000,600000,700000,800000,900000,1000000], "tickSize": {"condition": {"test": "abs(log(datum.value)/LN10-round(log(datum.value)/LN10))<0.001", "value": -5}, "value": -2.5}}}, "text": {"field": "t"}}},
    {"data": {"name": "arrows"}, "transform": [{"filter": "datum.p == 6"}], "mark": {"type": "rule", "color": "black", "strokeWidth": 2},
     "encoding": {"x": {"field": "x", "type": "quantitative", "axis": null}, "y": {"field": "y", "type": "quantitative", "axis": null}, "x2": {"field": "hx"}, "y2": {"field": "hy"}}},
    {"data": {"name": "arrows"}, "transform": [{"filter": "datum.p == 6"}], "mark": {"type": "point", "shape": "M0,0L-0.6,1.4L0.6,1.4Z", "filled": true, "color": "black", "opacity": 1, "size": 64},
     "encoding": {"x": {"field": "hx", "type": "quantitative", "axis": null}, "y": {"field": "hy", "type": "quantitative", "axis": null}, "angle": {"condition": {"test": "datum.k == 'up'", "value": 189}, "value": 10}}},
    {"data": {"name": "arrows"}, "transform": [{"filter": "datum.p == 6"}], "mark": {"type": "text", "font": "Liberation Sans", "fontSize": 14, "color": "black"},
     "encoding": {"x": {"field": "tx", "type": "quantitative", "axis": null}, "y": {"field": "ty", "type": "quantitative", "axis": null}, "text": {"field": "t"}}}
   ]}
 ]}
]
}
